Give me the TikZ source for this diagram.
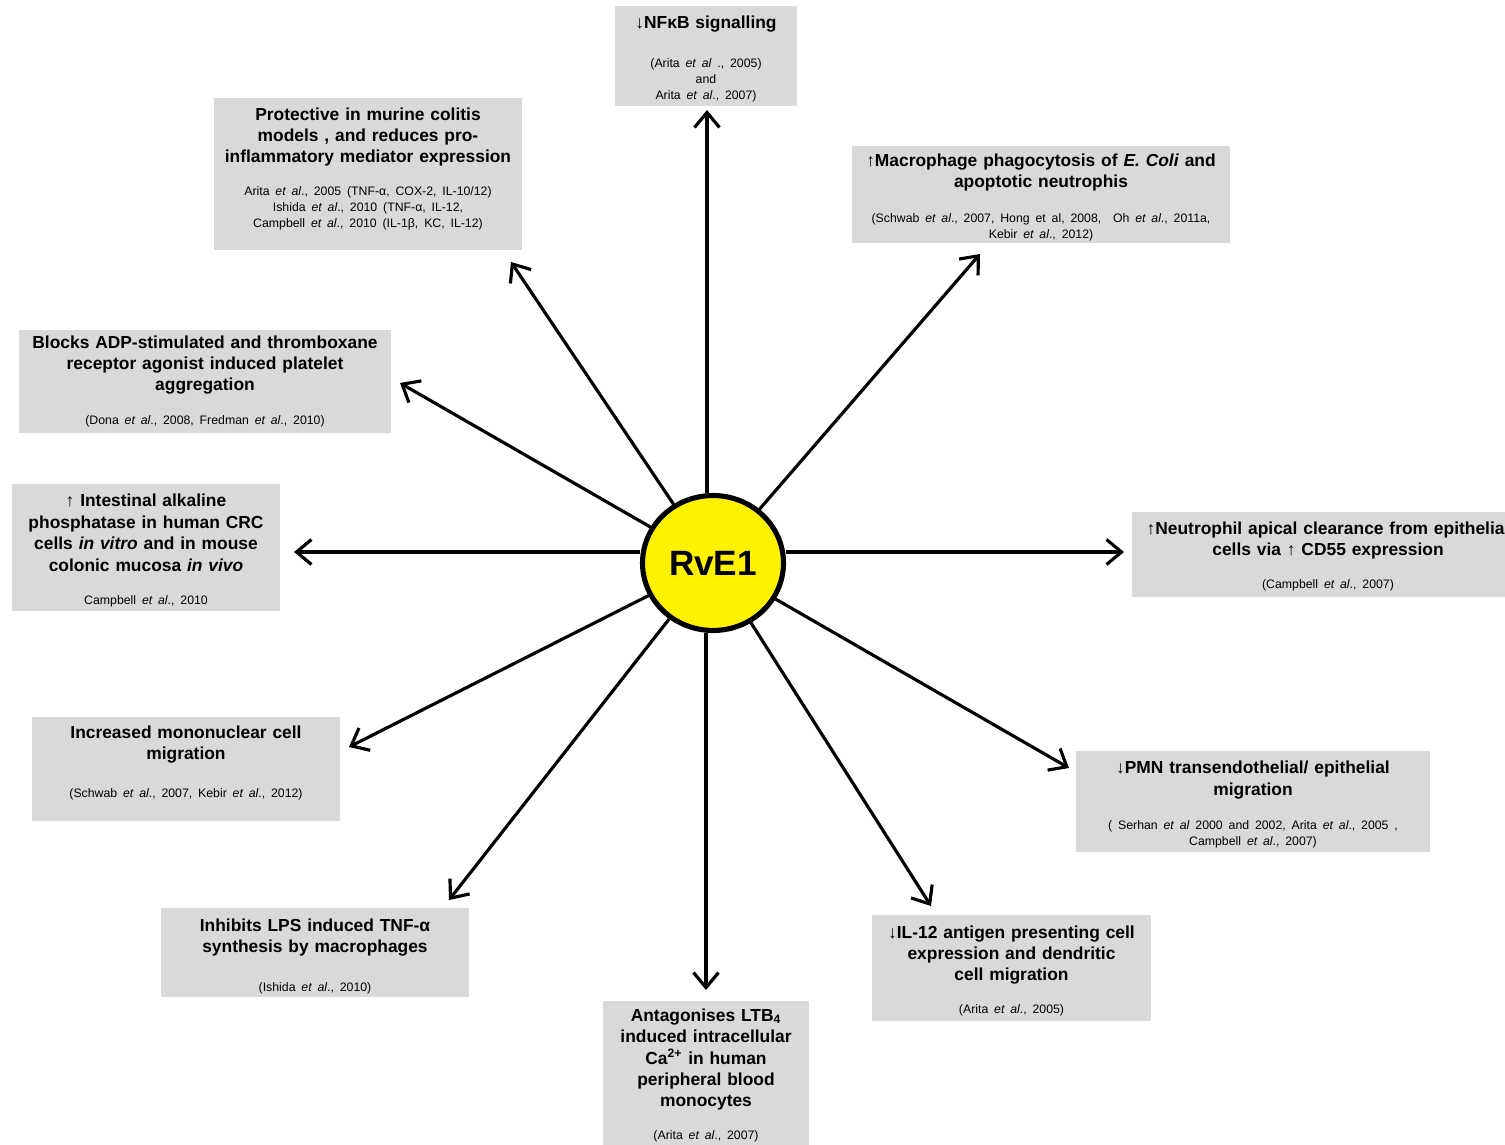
\documentclass[tikz,border=0pt]{standalone}
\usepackage{fontspec}
\setmainfont{Liberation Sans}
\usetikzlibrary{arrows.meta, shapes.geometric}

\definecolor{boxgray}{RGB}{217,217,217}
\newcommand{\efhead}{\fontsize{9.9}{12.2}\selectfont\bfseries}
\newcommand{\efcite}{\fontsize{7.0}{9.1}\selectfont}

\begin{document}
\begin{tikzpicture}[
    x=0.02cm, y=-0.02cm,
    >={Straight Barb[length=3mm,width=5mm]},
    arrow/.style={
        ->,
        line width=1.8pt
    },
    effect/.style={
        rectangle,
        fill=boxgray,
        inner xsep=0pt,
        inner ysep=0pt,
        align=center
    },
    hub/.style={
        ellipse,
        draw,
        fill=yellow,
        line width=2.9pt,
        minimum width=2.82cm,
        minimum height=2.7cm,
        inner sep=0pt,
        font=\fontsize{20}{24}\selectfont\bfseries
    }
]

    \useasboundingbox (0,0) rectangle (1505,1144);

    % RvE1 in the middle
    \node[hub] (rve) at (713,563) {RvE1};

    % Effects, clockwise from the top
    \node[effect, text width=3.64cm, minimum height=2.0cm] (nfkb) at (706,56)
        {{\efhead ↓NFκB signalling\par}\vspace{0.46cm}%
         {\efcite (Arita \textit{et al} ., 2005)\\ and\\ Arita \textit{et al}., 2007)\par}\kern-0.12cm};

    \node[effect, text width=7.56cm, minimum height=1.94cm] (phago) at (1041,194.5)
        {{\efhead ↑Macrophage phagocytosis of \textit{E. Coli} and\\ apoptotic neutrophis\par}\vspace{0.38cm}%
         {\efcite (Schwab \textit{et al}., 2007, Hong et al, 2008,\ \ Oh \textit{et al}., 2011a,\\ Kebir \textit{et al}., 2012)\par}\kern-0.12cm};

    \node[effect, text width=7.84cm, minimum height=1.7cm] (neutro) at (1328,554.5)
        {{\efhead ↑Neutrophil apical clearance from epithelial\\ cells via ↑ CD55 expression\par}\vspace{0.34cm}%
         {\efcite (Campbell \textit{et al}., 2007)\par}\kern-0.08cm};

    \node[effect, text width=7.08cm, minimum height=2.02cm] (pmn) at (1253,801.5)
        {{\efhead ↓PMN transendothelial/ epithelial\\ migration\par}\vspace{0.36cm}%
         {\efcite ( Serhan \textit{et al} 2000 and 2002, Arita \textit{et al}., 2005 ,\\ Campbell \textit{et al}., 2007)\par}\kern-0.12cm};

    \node[effect, text width=5.58cm, minimum height=2.12cm] (il12) at (1011.5,968)
        {{\efhead ↓IL-12 antigen presenting cell\\ expression and dendritic\\ cell migration\par}\vspace{0.34cm}%
         {\efcite (Arita \textit{et al}., 2005)\par}\kern-0.12cm};

    \node[effect, text width=4.12cm, minimum height=2.98cm] (ltb) at (706,1075.5)
        {{\efhead Antagonises LTB\textsubscript{4}\\ induced intracellular\\ Ca\textsuperscript{2+} in human\\ peripheral blood\\ monocytes\par}\vspace{0.34cm}%
         {\efcite (Arita \textit{et al}., 2007)\par}};

    \node[effect, text width=6.16cm, minimum height=1.78cm] (lps) at (315,952.5)
        {{\efhead Inhibits LPS induced TNF-α\\ synthesis by macrophages\par}\vspace{0.46cm}%
         {\efcite (Ishida \textit{et al}., 2010)\par}\kern-0.16cm};

    \node[effect, text width=6.16cm, minimum height=2.08cm] (mono) at (186,769)
        {{\efhead Increased mononuclear cell\\ migration\par}\vspace{0.44cm}%
         {\efcite (Schwab \textit{et al}., 2007, Kebir \textit{et al}., 2012)\par}\kern0.24cm};

    \node[effect, text width=5.36cm, minimum height=2.54cm] (alkaline) at (146,547.5)
        {{\efhead ↑ Intestinal alkaline\\ phosphatase in human CRC\\ cells \textit{in vitro} and in mouse\\ colonic mucosa \textit{in vivo}\par}\vspace{0.34cm}%
         {\efcite Campbell \textit{et al}., 2010\par}\kern-0.12cm};

    \node[effect, text width=7.44cm, minimum height=2.06cm] (platelet) at (205,381.5)
        {{\efhead Blocks ADP-stimulated and thromboxane\\ receptor agonist induced platelet\\ aggregation\par}\vspace{0.36cm}%
         {\efcite (Dona \textit{et al}., 2008,\ Fredman \textit{et al}., 2010)\par}};

    \node[effect, text width=6.16cm, minimum height=3.04cm] (colitis) at (368,174)
        {{\efhead Protective in murine colitis\\ models , and reduces pro-\\ inflammatory mediator expression\par}\vspace{0.34cm}%
         {\efcite Arita \textit{et al}., 2005 (TNF-α, COX-2, IL-10/12)\\ Ishida \textit{et al}., 2010 (TNF-α, IL-12,\\ Campbell \textit{et al}., 2010 (IL-1β, KC, IL-12)\par}\kern0.2cm};

    % Arrow tips, short of each box
    \coordinate (nfkb-tip) at (707,110);
    \coordinate (phago-tip) at (980,254);
    \coordinate (neutro-tip) at (1124,552);
    \coordinate (pmn-tip) at (1069,768);
    \coordinate (il12-tip) at (931,906);
    \coordinate (ltb-tip) at (706,990);
    \coordinate (lps-tip) at (449,900);
    \coordinate (mono-tip) at (349,747);
    \coordinate (alkaline-tip) at (294,552);
    \coordinate (platelet-tip) at (400,383);
    \coordinate (colitis-tip) at (511,262);

    % Arrows
    \draw[arrow] (rve.north -| nfkb-tip) -- (nfkb-tip);
    \draw[arrow] (rve) -- (phago-tip);
    \draw[arrow] (rve.east |- neutro-tip) -- (neutro-tip);
    \draw[arrow] (rve) -- (pmn-tip);
    \draw[arrow] (rve) -- (il12-tip);
    \draw[arrow] (rve.south -| ltb-tip) -- (ltb-tip);
    \draw[arrow] (rve) -- (lps-tip);
    \draw[arrow] (rve) -- (mono-tip);
    \draw[arrow] (rve.west |- alkaline-tip) -- (alkaline-tip);
    \draw[arrow] (rve) -- (platelet-tip);
    \draw[arrow] (rve) -- (colitis-tip);

\end{tikzpicture}
\end{document}
